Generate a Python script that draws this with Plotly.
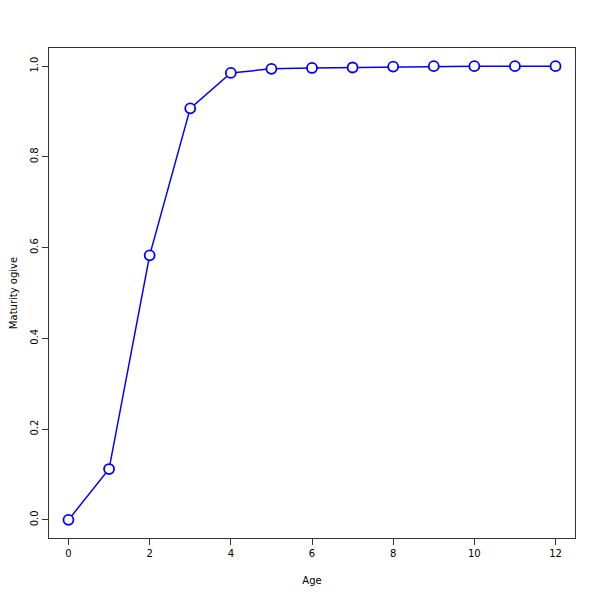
import plotly.graph_objects as go

ages = [0, 1, 2, 3, 4, 5, 6, 7, 8, 9, 10, 11, 12]
maturity = [0.0, 0.112, 0.583, 0.907, 0.985, 0.994, 0.996, 0.997, 0.999, 1.0, 1.0, 1.0, 1.0]

fig = go.Figure()
fig.add_trace(go.Scatter(
    x=ages, y=maturity, mode="lines+markers",
    line=dict(color="#0000ff", width=1.5),
    marker=dict(symbol="circle", size=10, color="white",
                line=dict(color="#0000ff", width=1.8)),
    showlegend=False,
))

axis_common = dict(
    showline=True, linecolor="#333333", linewidth=1, mirror=True,
    ticks="outside", ticklen=6, tickcolor="#333333",
    showgrid=False, zeroline=False, automargin=False,
    tickfont=dict(family="DejaVu Sans", size=10, color="black"),
)
fig.update_xaxes(range=[-0.48, 12.48], tickvals=[0, 2, 4, 6, 8, 10, 12],
                 title=dict(text="Age", font=dict(family="DejaVu Sans", size=10, color="black"), standoff=18),
                 **axis_common)
fig.update_yaxes(range=[-0.04, 1.04], tickvals=[0, 0.2, 0.4, 0.6, 0.8, 1.0],
                 ticktext=["0.0", "0.2", "0.4", "0.6", "0.8", "1.0"], tickangle=-90,
                 title=dict(text="Maturity ogive", font=dict(family="DejaVu Sans", size=10, color="black"), standoff=16),
                 **axis_common)
fig.update_layout(
    width=592, height=592,
    margin=dict(l=41, r=25, t=40, b=62),
    plot_bgcolor="white", paper_bgcolor="white",
)
fig.write_html("out.html")
